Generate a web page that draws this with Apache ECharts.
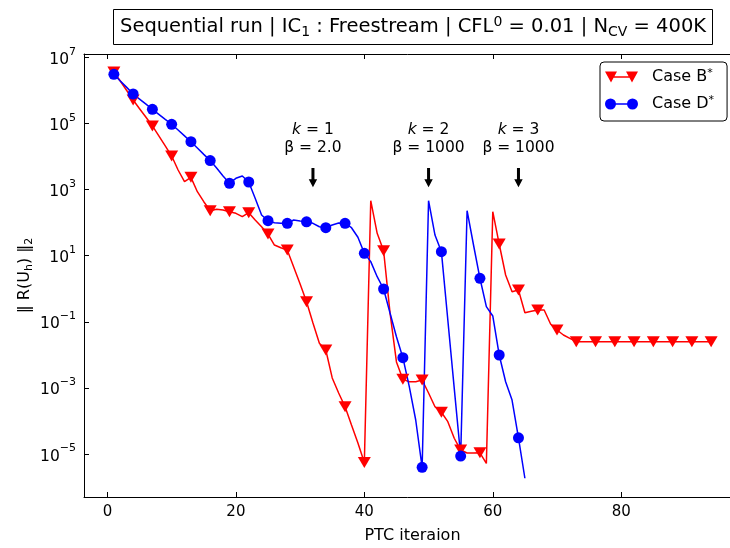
<!DOCTYPE html>
<html><head><meta charset="utf-8">
<script src="https://cdn.jsdelivr.net/npm/echarts@6/dist/echarts.min.js"></script>
<style>html,body{margin:0;padding:0;background:#fff}#c{width:730px;height:548px}</style>
</head><body><div id="c"></div>
<script>
// ---- data (residual norm per PTC iteration, iteration = index + 1) ----
const caseB = [
  3.6e6, 1.92e6, 9.9e5, 5.1e5, 2.79e5, 1.53e5, 8.4e4, 4.2e4, 2.08e4, 1.03e4,
  3.9e3, 1.73e3, 2.34e3, 861, 429, 229, 252, 240, 214, 191,
  151, 200, 120, 75, 45, 21, 17.4, 14.8, 4.57, 1.40,
  0.405, 0.092, 0.0223, 0.0140, 2.0e-3, 7.0e-4, 2.7e-4, 7.6e-5, 2.16e-5, 5.5e-6,
  460, 47.5, 14.1, 0.185, 6.1e-3, 1.82e-3, 1.54e-3, 1.54e-3, 1.73e-3, 7.0e-4,
  2.7e-4, 1.83e-4, 9.5e-5, 3.0e-5, 1.32e-5, 1.07e-5, 1.07e-5, 1.09e-5, 5.2e-6, 214,
  22.5, 2.6, 0.81, 0.91, 0.188, 0.207, 0.227, 0.227, 0.0857, 0.0565,
  0.0398, 0.0316, 0.025, 0.025, 0.025, 0.025, 0.025, 0.025, 0.025, 0.025,
  0.025, 0.025, 0.025, 0.025, 0.025, 0.025, 0.025, 0.025, 0.025, 0.025,
  0.025, 0.025, 0.025, 0.025
];
const caseD = [
  3.06e6, 1.93e6, 1.23e6, 7.76e5, 5.44e5, 3.82e5, 2.67e5, 1.89e5, 1.33e5, 9.4e4,
  6.3e4, 4.2e4, 2.8e4, 1.81e4, 1.16e4, 7.5e3, 4.5e3, 2.57e3, 1.55e3, 2.19e3,
  2.57e3, 1.69e3, 543, 170, 114, 99, 95, 95, 120, 112,
  106, 95, 75, 70, 85, 97, 95, 70, 36, 11.8,
  6.6, 2.31, 0.98, 0.185, 0.0354, 8.2e-3, 1.09e-3, 1.07e-4, 3.96e-6, 460,
  42, 13.2, 0.113, 9.7e-4, 8.7e-6, 229, 21, 2.07, 0.286, 0.150,
  9.9e-3, 1.54e-3, 4.3e-4, 3.1e-5, 1.85e-6
];
const seriesNames = ['Case B*', 'Case D*'];
const xTicks = [0, 20, 40, 60, 80];
const yTicks = [1e-5, 1e-3, 1e-1, 1e1, 1e3, 1e5, 1e7];
const stages = [
  { iter: 32, k: '1', beta: '2.0' },
  { iter: 50, k: '2', beta: '1000' },
  { iter: 64, k: '3', beta: '1000' }
];
const markEvery = 3;

// ---- chart ----
const FONT = 'DejaVu Sans';
const chart = echarts.init(document.getElementById('c'));

function build(vals, sym) {
  return vals.map((v, i) => ({ value: [i + 1, v], symbol: (i % markEvery === 0) ? sym : 'none' }));
}
function expLabel(v) {
  const e = Math.round(Math.log10(v));
  return '{b|10}{e|' + (e < 0 ? '\u2212' + (-e) : e) + '}';
}
const triIcon = 'path://M0,0L12,0L6,11ZM21,0L33,0L27,11ZM6,4.8L27,4.8L27,6.2L6,6.2Z';
const cirIcon = 'path://M0,5.5A5.5,5.5,0,1,1,11,5.5A5.5,5.5,0,1,1,0,5.5ZM22,5.5A5.5,5.5,0,1,1,33,5.5A5.5,5.5,0,1,1,22,5.5ZM5.5,4.8L27.5,4.8L27.5,6.2L5.5,6.2Z';

const XMIN = -3.65, XMAX = 98.65;
const option = {
  animation: false,
  backgroundColor: '#fff',
  textStyle: { fontFamily: FONT },
  title: {
    text: 'Sequential run | IC{sub|1} : Freestream | CFL{sup|0} = 0.01 | N{sub|CV} = 400K',
    left: 113, top: 9,
    padding: [6, 7, 6, 7],
    borderColor: '#000', borderWidth: 1,
    textStyle: {
      fontFamily: FONT, fontSize: 19.5, fontWeight: 'normal', color: '#000', lineHeight: 24,
      rich: {
        sub: { fontFamily: FONT, fontSize: 14, fontWeight: 'normal', color: '#000', lineHeight: 14, verticalAlign: 'bottom' },
        sup: { fontFamily: FONT, fontSize: 14, fontWeight: 'normal', color: '#000', lineHeight: 13, verticalAlign: 'top' }
      }
    }
  },
  legend: {
    orient: 'vertical', left: 600, top: 62,
    padding: [6, 13, 8, 5],
    itemWidth: 33, itemHeight: 11, itemGap: 9,
    borderColor: '#000', borderWidth: 1, borderRadius: 4,
    data: [{ name: seriesNames[0], icon: triIcon }, { name: seriesNames[1], icon: cirIcon }],
    formatter: n => n.replace('*', '{sup|*}'),
    textStyle: {
      fontFamily: FONT, fontSize: 16, color: '#000', lineHeight: 18, padding: [0, 0, 0, 9],
      rich: { sup: { fontFamily: FONT, fontSize: 11, color: '#000', lineHeight: 11, verticalAlign: 'top' } }
    }
  },
  grid: { left: 84, width: 657, top: 54, bottom: 51, containLabel: false, outerBoundsMode: 'none' },
  xAxis: [{
    type: 'value', min: XMIN, max: XMAX, position: 'bottom',
    name: 'PTC iteraion', nameLocation: 'middle', nameGap: 31, nameMoveOverlap: false,
    nameTextStyle: { fontFamily: FONT, fontSize: 16, color: '#000' },
    axisLine: { show: true, onZero: false, lineStyle: { color: '#000', width: 1 } },
    axisTick: { show: true, inside: true, length: 5, customValues: xTicks, lineStyle: { color: '#000' } },
    axisLabel: { customValues: xTicks, fontFamily: FONT, fontSize: 15, color: '#000', margin: 8 },
    splitLine: { show: false }
  }, {
    type: 'value', min: XMIN, max: XMAX, position: 'top',
    axisLine: { show: true, onZero: false, lineStyle: { color: '#000', width: 1 } },
    axisTick: { show: true, inside: true, length: 5, customValues: xTicks, lineStyle: { color: '#000' } },
    axisLabel: { show: false },
    splitLine: { show: false }
  }],
  yAxis: {
    type: 'log', logBase: 10, min: Math.pow(10, -6.3), max: Math.pow(10, 7.1),
    name: '\u2016 R(U{sub|h}) \u2016{sub|2}', nameLocation: 'middle', nameGap: 49, nameMoveOverlap: false,
    nameTextStyle: {
      fontFamily: FONT, fontSize: 16, color: '#000', lineHeight: 20,
      rich: { sub: { fontFamily: FONT, fontSize: 11, color: '#000', lineHeight: 13, verticalAlign: 'bottom' } }
    },
    axisLine: { show: true, onZero: false, lineStyle: { color: '#000', width: 1 } },
    axisTick: { show: true, inside: true, length: 5, customValues: yTicks, lineStyle: { color: '#000' } },
    axisLabel: {
      customValues: yTicks, margin: 8, formatter: expLabel,
      rich: {
        b: { fontFamily: FONT, fontSize: 15.5, color: '#000', lineHeight: 22, padding: [5, 0, 0, 0] },
        e: { fontFamily: FONT, fontSize: 11, color: '#000', lineHeight: 14, verticalAlign: 'top' }
      }
    },
    splitLine: { show: false },
    minorTick: { show: false }
  },
  series: [{
    name: seriesNames[0], type: 'line', xAxisIndex: 0, yAxisIndex: 0,
    data: build(caseB, 'triangle'),
    symbol: 'triangle', symbolRotate: 180, symbolSize: [13, 11], showAllSymbol: true,
    lineStyle: { color: '#ff0000', width: 1.5 },
    itemStyle: { color: '#ff0000' }
  }, {
    name: seriesNames[1], type: 'line', xAxisIndex: 0, yAxisIndex: 0,
    data: build(caseD, 'circle'),
    symbol: 'circle', symbolSize: 11, showAllSymbol: true,
    lineStyle: { color: '#0000ff', width: 1.5 },
    itemStyle: { color: '#0000ff' }
  }]
};
chart.setOption(option);

// annotations placed through the axes' own coordinate conversion
const TEXT_Y = Math.pow(10, 4.535), ARROW_TOP = Math.pow(10, 3.65), ARROW_TIP = Math.pow(10, 3.07);
const g = [];
stages.forEach((s) => {
  const [tx, ty] = chart.convertToPixel({ xAxisIndex: 0, yAxisIndex: 0 }, [s.iter, TEXT_Y]);
  const top = chart.convertToPixel({ xAxisIndex: 0, yAxisIndex: 0 }, [s.iter, ARROW_TOP])[1];
  const tip = chart.convertToPixel({ xAxisIndex: 0, yAxisIndex: 0 }, [s.iter, ARROW_TIP])[1];
  g.push({
    type: 'text', z: 100,
    style: {
      text: '{i|k} = ' + s.k + '\n\u03b2 = ' + s.beta,
      x: tx, y: ty, align: 'center', verticalAlign: 'middle',
      fontFamily: FONT, fontSize: 15.5, lineHeight: 18, fill: '#000',
      rich: { i: { fontFamily: FONT, fontSize: 15.5, fontStyle: 'italic', lineHeight: 18, fill: '#000' } }
    }
  });
  const hl = 8, hw = 4.2, sw = 1.5;
  g.push({
    type: 'polygon', z: 100,
    shape: { points: [[tx - sw, top], [tx + sw, top], [tx + sw, tip - hl], [tx + hw, tip - hl], [tx, tip], [tx - hw, tip - hl], [tx - sw, tip - hl]] },
    style: { fill: '#000' }
  });
});
chart.setOption({ graphic: g });
</script>
</body></html>
